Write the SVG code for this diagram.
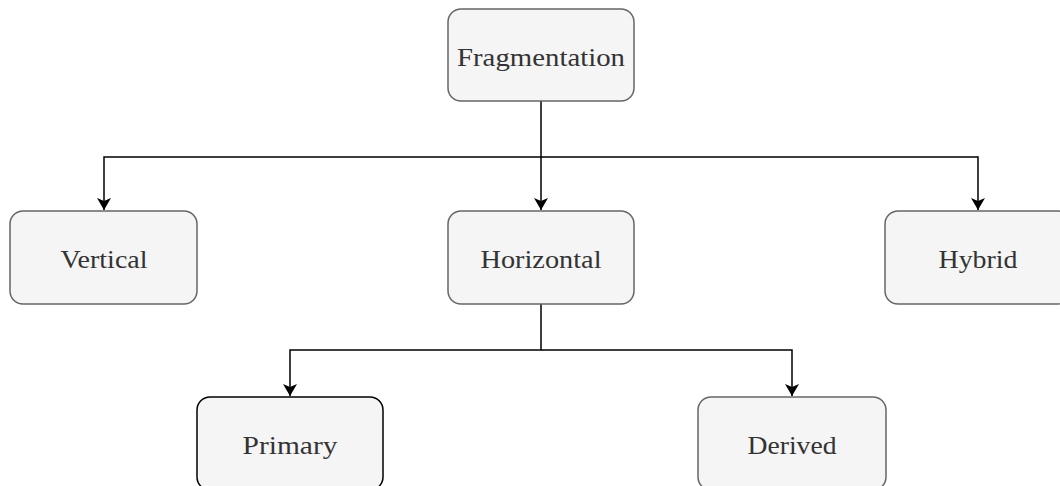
<svg xmlns="http://www.w3.org/2000/svg" width="1060" height="486" viewBox="0 0 1060 486">
  <style>
    .box { fill: #f5f5f5; stroke: #666666; stroke-width: 1.5; }
    .box.dark { stroke: #000000; }
    .lbl { font-family: "Liberation Serif", "DejaVu Serif", serif; font-size: 26px; fill: #333333; text-anchor: middle; }
    .edge { fill: none; stroke: #000000; stroke-width: 1.5; }
  </style>
  <defs>
    <marker id="arrow" viewBox="0 0 12 14" refX="12" refY="7" markerWidth="12" markerHeight="14" markerUnits="userSpaceOnUse" orient="auto">
      <path d="M0,0 L12,7 L0,14 L3,7 Z" fill="#000000"/>
    </marker>
  </defs>
  <rect width="1060" height="486" fill="#ffffff"/>

  <g id="connectors">
    <path class="edge" d="M541,101 V157 H104 V210" marker-end="url(#arrow)"/>
    <path class="edge" d="M541,157 V210" marker-end="url(#arrow)"/>
    <path class="edge" d="M541,157 H978 V210" marker-end="url(#arrow)"/>
    <path class="edge" d="M541,304 V350 H290 V396" marker-end="url(#arrow)"/>
    <path class="edge" d="M541,350 H792 V396" marker-end="url(#arrow)"/>
  </g>

  <g id="fragmentation">
    <rect class="box" x="448" y="9" width="186" height="92" rx="13"/>
    <text class="lbl" x="541" y="66" textLength="168" lengthAdjust="spacingAndGlyphs">Fragmentation</text>
  </g>
  <g id="vertical">
    <rect class="box" x="10" y="211" width="187" height="93" rx="13"/>
    <text class="lbl" x="104" y="268" textLength="87" lengthAdjust="spacingAndGlyphs">Vertical</text>
  </g>
  <g id="horizontal">
    <rect class="box" x="448" y="211" width="186" height="93" rx="13"/>
    <text class="lbl" x="541" y="268" textLength="121" lengthAdjust="spacingAndGlyphs">Horizontal</text>
  </g>
  <g id="hybrid">
    <rect class="box" x="885" y="211" width="186" height="93" rx="13"/>
    <text class="lbl" x="978" y="268" textLength="79" lengthAdjust="spacingAndGlyphs">Hybrid</text>
  </g>
  <g id="primary">
    <rect class="box dark" x="197" y="397" width="186" height="93" rx="13"/>
    <text class="lbl" x="290" y="454" textLength="95" lengthAdjust="spacingAndGlyphs">Primary</text>
  </g>
  <g id="derived">
    <rect class="box" x="698" y="397" width="188" height="93" rx="13"/>
    <text class="lbl" x="792" y="454" textLength="89" lengthAdjust="spacingAndGlyphs">Derived</text>
  </g>
</svg>
